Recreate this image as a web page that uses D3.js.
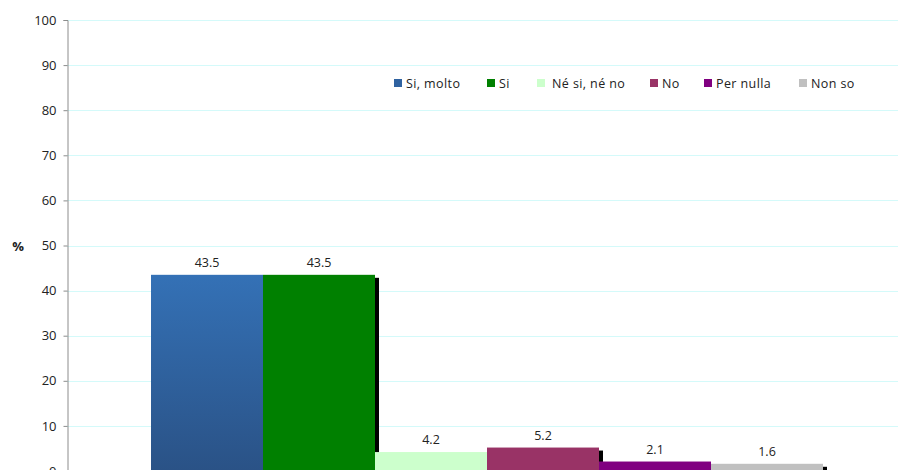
<!DOCTYPE html>
<html lang="it">
<head>
<meta charset="UTF-8">
<title>Grafico</title>
<script src="https://d3js.org/d3.v7.min.js"></script>
<style>
  body { margin:0; background:#fff; }
  svg { display:block; font-family:"Open Sans", sans-serif; }
</style>
</head>
<body>
<svg id="chart" width="898" height="470"></svg>
<script>
// data
var series = ["Si, molto", "Si", "Né si, né no", "No", "Per nulla", "Non so"];
var values = [43.5, 43.5, 4.2, 5.2, 2.1, 1.6];
var colors = ["#3270b4", "#008000", "#ccffcc", "#993366", "#800080", "#c0c0c0"];
var yTicks = [0, 10, 20, 30, 40, 50, 60, 70, 80, 90, 100];

var svg = d3.select("#chart");

var y = d3.scaleLinear().domain([0, 100]).range([471, 20]);
var x = d3.scaleBand().domain(series).range([151, 823]).padding(0);

// gradient for the first bar
var defs = svg.append("defs");
var grad = defs.append("linearGradient").attr("id", "blueGrad")
  .attr("x1", 0).attr("y1", 0).attr("x2", 0).attr("y2", 1);
grad.append("stop").attr("offset", "0%").attr("stop-color", "#3471b6");
grad.append("stop").attr("offset", "100%").attr("stop-color", "#2a5286");

// grid lines
svg.append("g")
  .selectAll("line")
  .data(yTicks.filter(function(d){ return d > 0; }))
  .enter().append("line")
    .attr("x1", 67).attr("x2", 898)
    .attr("y1", function(d){ return Math.round(y(d)) + 0.5; })
    .attr("y2", function(d){ return Math.round(y(d)) + 0.5; })
    .attr("stroke", "#d4fafa")
    .attr("stroke-width", 1);

// y axis
var yAxis = d3.axisLeft(y).tickValues(yTicks).tickSize(4).tickPadding(7);
var ga = svg.append("g").attr("transform", "translate(67.5,0)").call(yAxis);
ga.select(".domain").attr("stroke", "#8c8c8c");
ga.selectAll(".tick line").attr("stroke", "#8c8c8c");
ga.selectAll(".tick text").attr("fill", "#222").style("font-size", "13px")
  .style("font-family", "'Open Sans', sans-serif");

svg.append("text")
  .attr("x", 18).attr("y", 251)
  .attr("text-anchor", "middle")
  .style("font-size", "13px").style("font-weight", "bold")
  .attr("fill", "#222")
  .text("%");

// shadows
svg.append("g")
  .selectAll("rect")
  .data(values)
  .enter().append("rect")
    .attr("x", function(d, i){ return x(series[i]) + 4; })
    .attr("y", function(d){ return y(d) + 3; })
    .attr("width", x.bandwidth())
    .attr("height", function(d){ return y(0) - y(d); })
    .attr("fill", "#000");

// bars
svg.append("g")
  .selectAll("rect")
  .data(values)
  .enter().append("rect")
    .attr("x", function(d, i){ return x(series[i]); })
    .attr("y", function(d){ return y(d); })
    .attr("width", x.bandwidth())
    .attr("height", function(d){ return y(0) - y(d); })
    .attr("fill", function(d, i){ return i === 0 ? "url(#blueGrad)" : colors[i]; });

// value labels
svg.append("g")
  .selectAll("text")
  .data(values)
  .enter().append("text")
    .attr("x", function(d, i){ return x(series[i]) + x.bandwidth() / 2; })
    .attr("y", function(d){ return y(d) - 8; })
    .attr("text-anchor", "middle")
    .style("font-size", "12.5px")
    .attr("fill", "#222")
    .text(function(d){ return d.toFixed(1); });

// legend
var legendX = [394, 487, 537, 650, 704, 799];
var lg = svg.append("g")
  .selectAll("g")
  .data(series)
  .enter().append("g")
    .attr("transform", function(d, i){ return "translate(" + legendX[i] + ",79)"; });
lg.append("rect")
  .attr("width", 8).attr("height", 8)
  .attr("fill", function(d, i){ return i === 0 ? "#2f62a0" : colors[i]; });
lg.append("text")
  .attr("x", function(d, i){ return i === 2 ? 15 : 12; })
  .attr("y", 9)
  .style("font-size", "12.5px")
  .style("letter-spacing", "0.4px")
  .attr("fill", "#222")
  .text(function(d){ return d; });
</script>
</body>
</html>
